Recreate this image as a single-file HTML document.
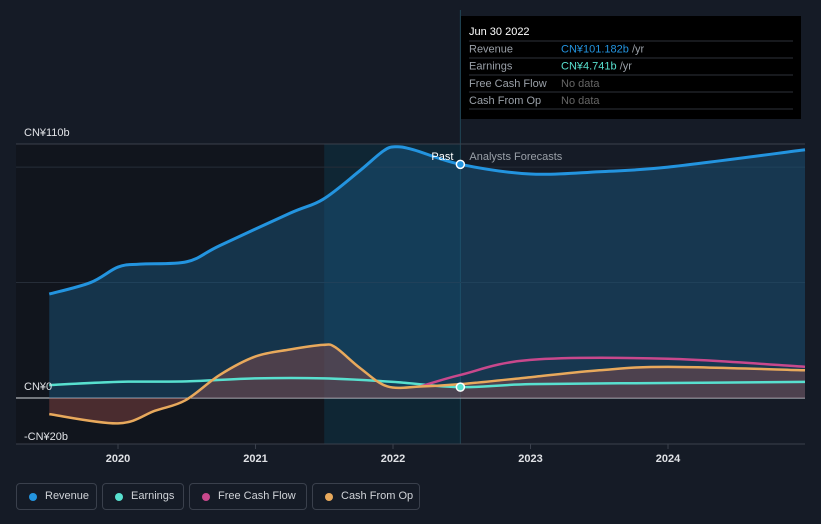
<!DOCTYPE html>
<html><head><meta charset="utf-8"><style>
body{margin:0;background:#151b26;width:821px;height:524px;overflow:hidden;font-family:"Liberation Sans",sans-serif}
svg text{font-family:"Liberation Sans",sans-serif}
.leg{position:absolute;top:483px;height:27px;border:1px solid #3a404c;border-radius:4px;color:#d0d3d8;font-size:11px;line-height:25px;box-sizing:border-box;padding-left:28px;white-space:nowrap}
.leg i{position:absolute;left:12px;top:9px;width:8px;height:8px;border-radius:50%}
</style></head><body>
<svg id="c" width="821" height="524" style="position:absolute;left:0;top:0"></svg>
<div class="leg" style="left:16px;width:81px"><i style="background:#2394df"></i>Revenue</div>
<div class="leg" style="left:102px;width:82px"><i style="background:#58e0cf"></i>Earnings</div>
<div class="leg" style="left:189px;width:118px"><i style="background:#c8488c"></i>Free Cash Flow</div>
<div class="leg" style="left:312px;width:108px"><i style="background:#e8a95c"></i>Cash From Op</div>
<script>
const revX=[2019.5,2019.8,2020,2020.16,2020.5,2020.74,2021.25,2021.49,2021.75,2021.93,2022.02,2022.15,2022.49,2023,2023.5,2024,2025];
const revV=[45,50,56.7,58,59,66,80,86,98,107,108.8,107.5,101.2,97,98,100,107.5];
const earnX=[2019.5,2020,2020.5,2021,2021.5,2022,2022.49,2023,2024,2025];
const earnV=[5.6,7,7.2,8.5,8.5,7,4.7,6,6.5,7];
const cfoX=[2019.5,2020,2020.27,2020.49,2020.74,2021,2021.25,2021.49,2021.58,2021.76,2021.96,2022.2,2022.49,2023,2023.5,2024,2025];
const cfoV=[-7,-11,-5.5,-1,10,18,21,23,22,13,5,5,6,9,12,13.5,12];
const fcfX=[2022.2,2022.49,2023,2024,2025];
const fcfV=[5,10,16.5,17,13.5];
const yTicks=[110,0,-20];const yLab=["CN¥110b","CN¥0","-CN¥20b"];
const xTicks=[2020,2021,2022,2023,2024];
const X=t=>118+(t-2020)*137.5, Y=v=>398-v*2.309;
const s=document.getElementById('c');const NS='http://www.w3.org/2000/svg';
function el(tag,a,name){const e=document.createElementNS(NS,tag);for(const k in a)e.setAttribute(k,a[k]);


s.appendChild(e);return e;}
function path(xs,vs){const p=xs.map((x,i)=>[Math.min(X(x),805),Y(vs[i])]);let d='M'+p[0][0]+','+p[0][1];
for(let i=0;i<p.length-1;i++){const p0=p[i-1]||p[i],p1=p[i],p2=p[i+1],p3=p[i+2]||p2;
const c1x=p1[0]+(p2[0]-p0[0])/6,c1y=p1[1]+(p2[1]-p0[1])/6,c2x=p2[0]-(p3[0]-p1[0])/6,c2y=p2[1]-(p3[1]-p1[1])/6;
d+=` C${c1x},${c1y} ${c2x},${c2y} ${p2[0]},${p2[1]}`;}return d;}
const px=X(2022.49);
el('rect',{x:16,y:144,width:X(2021.5)-16,height:300,fill:'#11151d'},'past-shade');
el('rect',{x:X(2021.5),y:144,width:px-X(2021.5),height:300,fill:'#0f2634'},'highlight-band');
el('line',{x1:px,y1:10,x2:px,y2:444,stroke:'#1f4555','stroke-width':1},'now-line');
[110,100,50].forEach(v=>el('line',{x1:16,x2:805,y1:Y(v),y2:Y(v),stroke:v==110?'#3a404c':'#262d38'},'gridline'));
el('line',{x1:16,x2:805,y1:444,y2:444,stroke:'#3a404c'},'x-axis-line');
el('line',{x1:16,x2:805,y1:Y(0),y2:Y(0),stroke:'#d8dbe0'},'zero-line');
const rp=path(revX,revV);
el('path',{d:rp+` L805,${Y(0)} L${X(2019.5)},${Y(0)} Z`,fill:'#1a5c86',opacity:0.45},'revenue-area');
const cp=path(cfoX,cfoV);
el('path',{d:cp+` L805,${Y(0)} L${X(2019.5)},${Y(0)} Z`,fill:'#a0504a',opacity:0.4},'cfo-area');
el('path',{d:rp,fill:'none',stroke:'#2394df','stroke-width':3},'revenue-line');
el('path',{d:path(earnX,earnV),fill:'none',stroke:'#58e0cf','stroke-width':2.5},'earnings-line');
el('path',{d:path(fcfX,fcfV),fill:'none',stroke:'#c8488c','stroke-width':2.5},'fcf-line');
el('path',{d:cp,fill:'none',stroke:'#e8a95c','stroke-width':2.5},'cfo-line');
el('circle',{cx:px,cy:Y(101.2),r:4,fill:'#2394df',stroke:'#fff','stroke-width':1.5},'revenue-marker');
el('circle',{cx:px,cy:Y(4.7),r:4,fill:'#58e0cf',stroke:'#fff','stroke-width':1.5},'earnings-marker');
yTicks.forEach((v,i)=>{const t=el('text',{x:24,y:v<0?Y(v)-8+4:Y(v)-8,fill:'#e0e2e6','font-size':11},'y-tick-label');t.textContent=yLab[i];});
xTicks.forEach(v=>{el('line',{x1:X(v),x2:X(v),y1:444,y2:449,stroke:'#3a404c'},'x-tick');const t=el('text',{x:X(v),y:462,fill:'#e0e2e6','font-size':11,'text-anchor':'middle','font-weight':'bold'},'x-tick-label');t.textContent=v;});
let t=el('text',{x:px-7,y:160,fill:'#fff','font-size':11,'text-anchor':'end'},'past-label');t.textContent='Past';
t=el('text',{x:px+9,y:160,fill:'#9aa0a8','font-size':11},'forecast-label');t.textContent='Analysts Forecasts';
el('rect',{x:461,y:16,width:340,height:103,fill:'#000'},'tooltip');
[41,58,75,92,109].forEach(y=>el('line',{x1:469,x2:793,y1:y,y2:y,stroke:'#2e323a'},'tooltip-divider'));
const rows=[['Jun 30 2022','',''],['Revenue','CN¥101.182b','#2394df'],['Earnings','CN¥4.741b','#58e0cf'],['Free Cash Flow','No data','#666'],['Cash From Op','No data','#666']];
rows.forEach((r,i)=>{const y=35+i*17.3;const a=el('text',{x:469,y:y,fill:i?'#9aa0a8':'#fff','font-size':11},'tooltip-label');a.textContent=r[0];
if(r[1]){const b=el('text',{x:561,y:y,fill:r[2],'font-size':11},'tooltip-value');b.textContent=r[1];if(i<3){const ts=document.createElementNS(NS,'tspan');ts.setAttribute('fill','#9aa0a8');ts.textContent=' /yr';b.appendChild(ts);}}});
</script>
</body></html>
